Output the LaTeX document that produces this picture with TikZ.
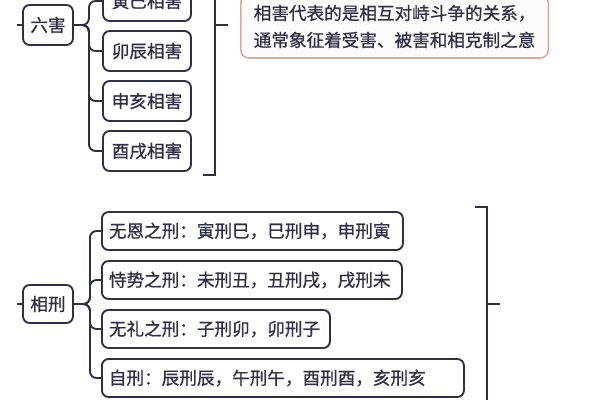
\documentclass[tikz,border=0pt]{standalone}
\usepackage{fontspec}
\setmainfont[FakeBold=0.8]{Noto Sans CJK SC}
\begin{document}
\begin{tikzpicture}[x=0.75pt,y=-0.75pt,
  every node/.style={font=\fontsize{13.2pt}{16pt}\selectfont, text=txt},
  box/.style={draw=ln, line width=1.4pt, rounded corners=5pt, fill=white, inner xsep=5.25pt, inner ysep=0pt},
  hub/.style={box, minimum width=37.5pt, minimum height=30pt},
  tbox/.style={box, minimum width=66pt, minimum height=30pt},
  bbox/.style={box, minimum height=28.5pt, align=left, anchor=west},
  conn/.style={draw=ln, line width=1.4pt, rounded corners=5pt},
  brk/.style={draw=ln, line width=1.4pt}]
\definecolor{ln}{HTML}{2E2F48}
\definecolor{txt}{HTML}{2F3046}
\definecolor{nb}{HTML}{DCAA9C}
\definecolor{nf}{HTML}{FFFBFA}
\clip (0,0) rectangle (600,400);
\fill[white] (0,0) rectangle (600,400);

% ---- top section ----
\node[hub] (h1) at (48,25) {六害};
\node[tbox] (t1) at (147,1) {寅巳相害};
\node[tbox] (t2) at (147,51) {卯辰相害};
\node[tbox] (t3) at (147,101) {申亥相害};
\node[tbox] (t4) at (147,151) {酉戌相害};
\coordinate (l1) at (17,25);
\draw[conn] (l1) -- (h1.west);
\foreach \b in {t1,t2,t3,t4}
  \draw[conn] (h1.east) -- ++(15,0) |- (\b.west);

\coordinate (ba1) at (215,-10);
\coordinate (ba2) at (215,175);
\coordinate (ba3) at (203,175);
\coordinate (bs1) at (215,25);
\coordinate (bs2) at (228,25);
\draw[brk] (ba1) -- (ba2) -- (ba3);
\draw[brk] (bs1) -- (bs2);

\node[draw=nb, fill=nf, line width=1.2pt, rounded corners=6pt, anchor=west,
      minimum height=47.25pt, inner xsep=9.75pt, align=left,
      font=\fontsize{13.2pt}{20.25pt}\selectfont] (note) at (240,26.5)
  {相害代表的是相互对峙斗争的关系，\\通常象征着受害、被害和相克制之意};

% ---- bottom section ----
\node[hub, minimum height=28.5pt] (h2) at (48,304) {相刑};
\node[bbox, text width=215.25pt] (x1) at (101,231) {无恩之刑：寅刑巳，巳刑申，申刑寅};
\node[bbox, text width=214.5pt] (x2) at (101,280) {恃势之刑：未刑丑，丑刑戌，戌刑未};
\node[bbox, text width=160.5pt] (x3) at (101,329) {无礼之刑：子刑卯，卯刑子};
\node[bbox, text width=261pt] (x4) at (101,378) {自刑：辰刑辰，午刑午，酉刑酉，亥刑亥};
\coordinate (l2) at (17,304);
\draw[conn] (l2) -- (h2.west);
\foreach \b in {x1,x2,x3,x4}
  \draw[conn] (h2.east) -- ++(16,0) |- (\b.west);

\coordinate (bb1) at (475,207);
\coordinate (bb2) at (487,207);
\coordinate (bb3) at (487,410);
\coordinate (bt1) at (487,304);
\coordinate (bt2) at (500,304);
\draw[brk] (bb1) -- (bb2) -- (bb3);
\draw[brk] (bt1) -- (bt2);
\end{tikzpicture}
\end{document}
